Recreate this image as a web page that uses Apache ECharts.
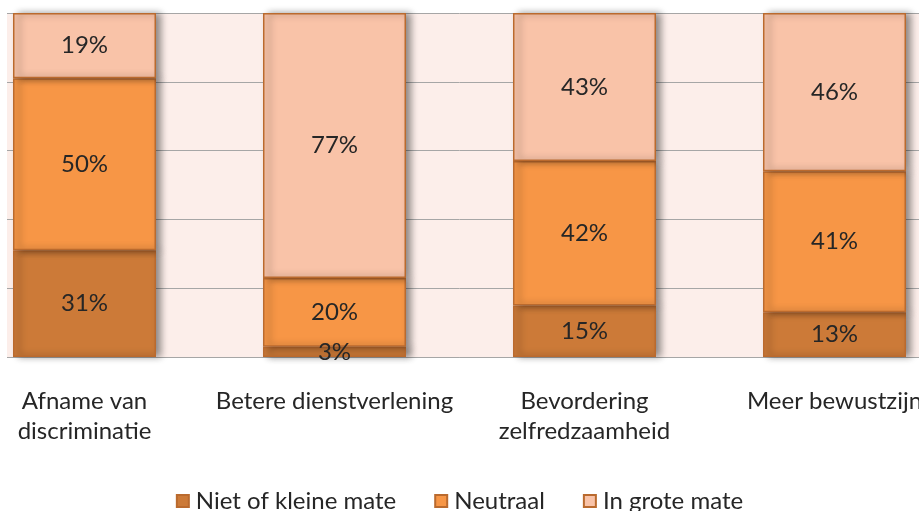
<!DOCTYPE html>
<html>
<head>
<meta charset="utf-8">
<script src="https://cdn.jsdelivr.net/npm/echarts@6/dist/echarts.min.js"></script>
<style>
html,body{margin:0;padding:0;background:#fff;}
#c{width:919px;height:511px;}
</style>
</head>
<body>
<div id="c"></div>
<script>
const categories = ['Afname van\ndiscriminatie', 'Betere dienstverlening', 'Bevordering\nzelfredzaamheid', 'Meer bewustzijn'];
const seriesNames = ['Niet of kleine mate', 'Neutraal', 'In grote mate'];
const nietOfKleineMate = [31, 3, 15, 13];
const neutraal = [50, 20, 42, 41];
const inGroteMate = [19, 77, 43, 46];
const colors = ['#CC7A38', '#F79646', '#F9C3A8'];

const FONT = 'Lato';
const chart = echarts.init(document.getElementById('c'), null, {renderer: 'canvas'});

function mk(name, data, color) {
  return {
    name: name,
    type: 'bar',
    stack: 'total',
    data: data,
    barWidth: 143,
    itemStyle: {
      color: color,
      borderColor: '#BA6A2E',
      borderWidth: 1.5,
      shadowColor: 'rgba(0,0,0,0.45)',
      shadowBlur: 7,
      shadowOffsetX: 5,
      shadowOffsetY: 0
    },
    label: {
      show: true,
      position: 'inside',
      formatter: '{c}%',
      fontFamily: FONT,
      fontSize: 24,
      color: '#262626'
    },
    emphasis: {disabled: true}
  };
}

chart.setOption({
  animation: false,
  backgroundColor: '#ffffff',
  graphic: [{
    type: 'rect',
    z: -10,
    silent: true,
    shape: {x: 7, y: 13, width: 912, height: 344},
    style: {fill: '#FCEEEA'}
  }, {
    type: 'rect',
    z: 1,
    silent: true,
    shape: {x: 0, y: 0, width: 7, height: 365},
    style: {fill: '#ffffff'}
  }],
  grid: {left: -40.5, width: 1000, top: 13, height: 344, containLabel: false, outerBoundsMode: 'none'},
  legend: {
    data: seriesNames,
    left: 'center',
    top: 484,
    itemWidth: 12,
    itemHeight: 12,
    itemGap: 38,
    icon: 'rect',
    textStyle: {fontFamily: FONT, fontSize: 24, color: '#262626', padding: [0, 0, 0, 2]}
  },
  xAxis: {
    type: 'category',
    data: categories,
    axisLine: {show: true, lineStyle: {color: '#A6A6A6', width: 1}},
    axisTick: {show: false},
    axisLabel: {
      interval: 0,
      fontFamily: FONT,
      fontSize: 24,
      lineHeight: 30,
      color: '#262626',
      margin: 29
    }
  },
  yAxis: {
    type: 'value',
    min: 0,
    max: 100,
    interval: 20,
    axisLine: {show: false},
    axisTick: {show: false},
    axisLabel: {show: false},
    splitLine: {show: true, lineStyle: {color: '#A6A6A6', width: 1}}
  },
  series: [
    mk(seriesNames[0], nietOfKleineMate, colors[0]),
    mk(seriesNames[1], neutraal, colors[1]),
    mk(seriesNames[2], inGroteMate, colors[2])
  ]
});
</script>
</body>
</html>
